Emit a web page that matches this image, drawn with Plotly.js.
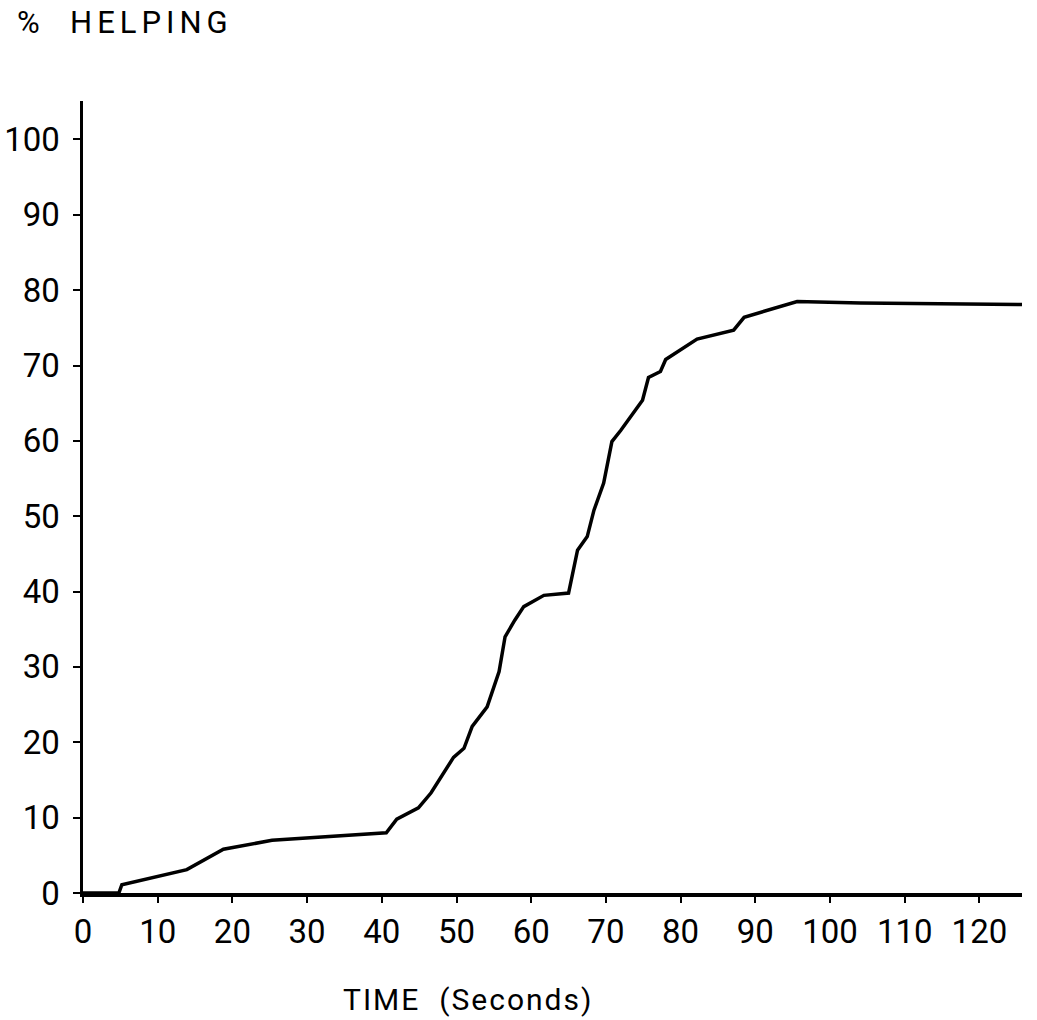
<!DOCTYPE html>
<html>
<head>
<meta charset="utf-8">
<script src="https://cdn.plot.ly/plotly-3.0.1.min.js"></script>
<style>
  html, body { margin: 0; padding: 0; background: #fff; }
  #chart { width: 1037px; height: 1020px; }
  g.annotation[data-index="0"] text { letter-spacing: 5px; }
  g.annotation[data-index="1"] text { letter-spacing: 2px; }
</style>
</head>
<body>
<div id="chart"></div>
<script>
// Time (seconds) and cumulative % helping
const timeSeconds = [0, 4.8, 5.2, 13.9, 18.8, 25.3, 40.6, 42.0, 44.9, 46.6, 49.6, 51.0, 52.1, 54.1, 55.7, 56.5, 57.8, 59.0, 61.7, 65.0, 66.2, 67.5, 68.4, 69.7, 70.8, 72.0, 74.9, 75.7, 77.3, 78.0, 82.2, 87.1, 88.5, 95.6, 104.1, 125.7];
const percentHelping = [0, 0, 1.1, 3.1, 5.8, 7.0, 8.0, 9.8, 11.3, 13.3, 18.0, 19.2, 22.1, 24.7, 29.4, 34.0, 36.2, 38.0, 39.5, 39.8, 45.5, 47.3, 50.8, 54.4, 59.9, 61.4, 65.4, 68.4, 69.2, 70.8, 73.5, 74.7, 76.4, 78.5, 78.3, 78.1];

const xTicks = [0, 10, 20, 30, 40, 50, 60, 70, 80, 90, 100, 110, 120];
const yTicks = [0, 10, 20, 30, 40, 50, 60, 70, 80, 90, 100];

const yLabel = "%\u00a0\u00a0HELPING";
const xLabel = "TIME\u00a0\u00a0(Seconds)";

const fontFam = "Roboto, 'DejaVu Sans', sans-serif";

const trace = {
  x: timeSeconds,
  y: percentHelping,
  type: 'scatter',
  mode: 'lines',
  line: { color: '#000', width: 3.5 },
  hoverinfo: 'skip'
};

const layout = {
  width: 1037,
  height: 1020,
  margin: { l: 83, r: 15, t: 101, b: 127 },
  paper_bgcolor: '#fff',
  plot_bgcolor: '#fff',
  showlegend: false,
  font: { family: fontFam, color: '#000', size: 33 },
  xaxis: {
    range: [0, 125.7],
    tickvals: xTicks,
    ticktext: xTicks.map(String),
    showgrid: false,
    zeroline: false,
    showline: true,
    linecolor: '#000',
    linewidth: 3.5,
    ticks: 'outside',
    ticklen: 6,
    tickwidth: 2,
    tickcolor: '#000',
    ticklabelstandoff: 1,
    tickfont: { family: fontFam, size: 33, color: '#000' }
  },
  yaxis: {
    range: [0, 105.1],
    tickvals: yTicks,
    ticktext: yTicks.map(String),
    showgrid: false,
    zeroline: false,
    showline: true,
    linecolor: '#000',
    linewidth: 3.5,
    ticks: 'outside',
    ticklen: 7,
    tickwidth: 2,
    tickcolor: '#000',
    ticklabelstandoff: 6,
    tickfont: { family: fontFam, size: 33, color: '#000' }
  },
  annotations: [
    {
      text: yLabel,
      xref: 'paper', yref: 'paper',
      x: 0.045, y: 1.0993,
      xanchor: 'center', yanchor: 'middle',
      showarrow: false,
      font: { family: fontFam, size: 31, color: '#000' }
    },
    {
      text: xLabel,
      xref: 'x', yref: 'paper',
      x: 51.5, y: -0.135,
      xanchor: 'center', yanchor: 'middle',
      showarrow: false,
      font: { family: fontFam, size: 30, color: '#000' }
    }
  ]
};

Plotly.newPlot('chart', [trace], layout, { displayModeBar: false, staticPlot: true });
</script>
</body>
</html>
